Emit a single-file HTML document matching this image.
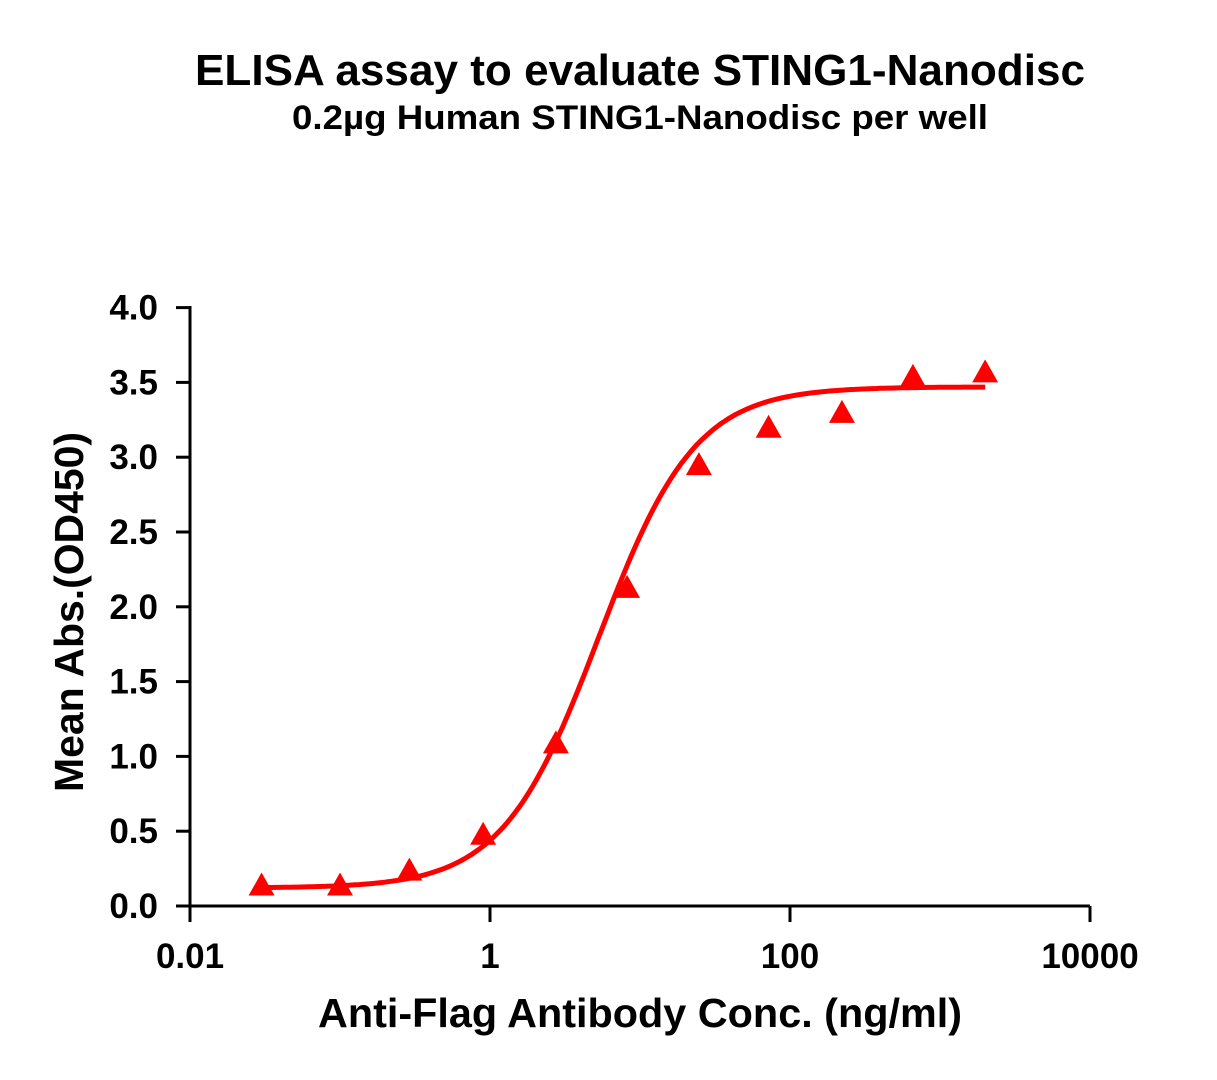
<!DOCTYPE html>
<html><head><meta charset="utf-8"><style>
body{margin:0;background:#fff}
svg text{font-family:"Liberation Sans",Arial,sans-serif;font-weight:bold;fill:#000}
</style></head><body>
<svg width="1217" height="1075" viewBox="0 0 1217 1075">
<text x="640" y="85" font-size="44" text-anchor="middle" textLength="890" lengthAdjust="spacingAndGlyphs">ELISA assay to evaluate STING1-Nanodisc</text>
<text x="640" y="129" font-size="34" text-anchor="middle" textLength="696" lengthAdjust="spacingAndGlyphs">0.2µg Human STING1-Nanodisc per well</text>
<g id="axes"></g>
<g id="marks"></g>
<text x="640" y="1027" font-size="41" text-anchor="middle" textLength="644" lengthAdjust="spacingAndGlyphs">Anti-Flag Antibody Conc. (ng/ml)</text>
<text transform="translate(83,612) rotate(-90)" font-size="41" text-anchor="middle" textLength="360" lengthAdjust="spacingAndGlyphs">Mean Abs.(OD450)</text>
</svg>
<script>
const concentrations=[0.03,0.1,0.29,0.9,2.75,8.2,24.7,72,222,660,2000];
const absorbances=[0.13,0.13,0.23,0.47,1.08,2.12,2.94,3.19,3.29,3.53,3.56];
const xTickLabels=["0.01","1","100","10000"];
const xTickValues=[0.01,1,100,10000];
const yTickValues=[0,0.5,1,1.5,2,2.5,3,3.5,4];
const fitBottom=0.12, fitTop=3.47, fitEC50=5.3, fitHill=1.35;

const NS="http://www.w3.org/2000/svg";
const X=v=>190+(Math.log10(v)+2)*150;
const Y=v=>906-v*149.6;
function mk(tag,attrs,parent){const e=document.createElementNS(NS,tag);for(const k in attrs)e.setAttribute(k,attrs[k]);parent.appendChild(e);return e;}
const axes=document.getElementById('axes'),marks=document.getElementById('marks');
let a=mk('line',{x1:176,y1:906,x2:1090,y2:906,stroke:'#000','stroke-width':3},axes);


a=mk('line',{x1:190,y1:306,x2:190,y2:907,stroke:'#000','stroke-width':3},axes);


xTickValues.forEach((v,i)=>{
  const t=mk('line',{x1:X(v),y1:906,x2:X(v),y2:922,stroke:'#000','stroke-width':3},axes);
  
  
  const l=mk('text',{x:X(v),y:968,'font-size':35,'text-anchor':'middle'},axes);l.textContent=xTickLabels[i];
  
  
});
yTickValues.forEach(v=>{
  const t=mk('line',{x1:176,y1:Y(v),x2:190,y2:Y(v),stroke:'#000','stroke-width':3},axes);
  
  
  const l=mk('text',{x:158,y:Y(v)+12,'font-size':35,'text-anchor':'end'},axes);l.textContent=v.toFixed(1);
  
  
});
let d='';
const lo=Math.log10(concentrations[0]),hi=Math.log10(concentrations[concentrations.length-1]);
for(let i=0;i<=200;i++){const lx=lo+(hi-lo)*i/200,c=Math.pow(10,lx);
  const y=fitBottom+(fitTop-fitBottom)/(1+Math.pow(fitEC50/c,fitHill));
  d+=(i?'L':'M')+X(c).toFixed(1)+','+Y(y).toFixed(1);}
const p=mk('path',{d:d,fill:'none',stroke:'#ff0000','stroke-width':5},marks);


concentrations.forEach((c,i)=>{const x=X(c),y=Y(absorbances[i]);
  const t=mk('polygon',{points:`${x},${y-14} ${x-13},${y+9} ${x+13},${y+9}`,fill:'#ff0000'},marks);
  
  
});
</script>
</body></html>
